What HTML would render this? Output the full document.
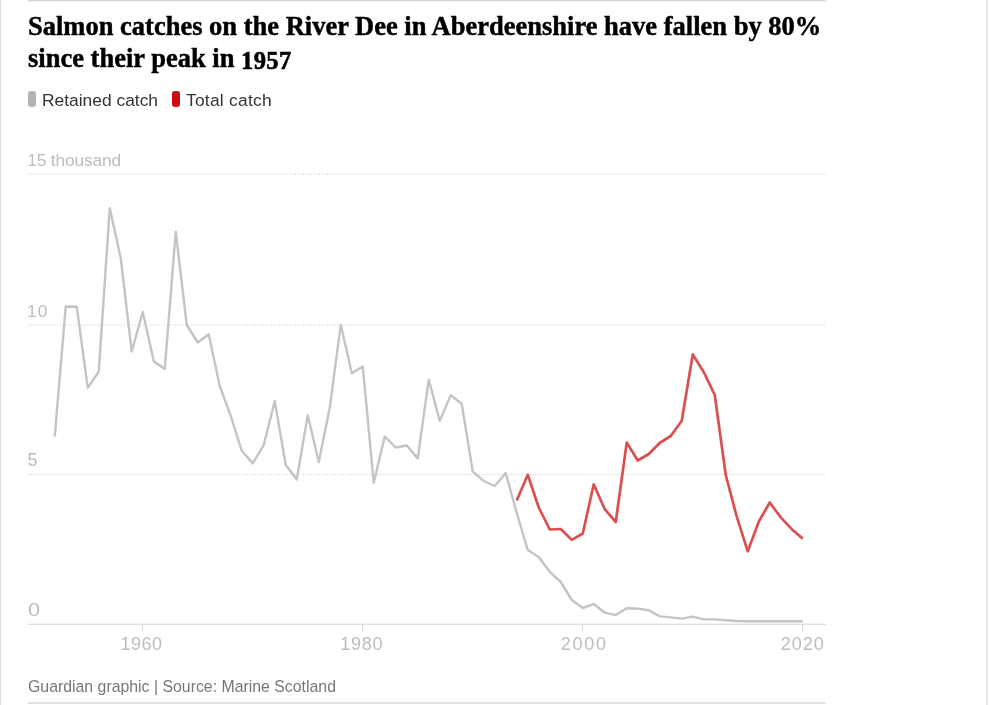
<!DOCTYPE html>
<html><head><meta charset="utf-8"><style>
html,body{margin:0;padding:0;background:#fff;}
.title,.leg,.foot,svg{will-change:transform;}
body{width:989px;height:705px;position:relative;overflow:hidden;}
.ln{position:absolute;background:#dadada;}
.title{position:absolute;left:28px;top:0;margin:0;font-family:"Liberation Serif",serif;font-weight:bold;font-size:26.5px;color:#000;white-space:nowrap;line-height:31.8px;-webkit-text-stroke:0.45px #000;}
.leg{position:absolute;top:0;font-family:"Liberation Sans",sans-serif;font-size:17.4px;color:#333;white-space:nowrap;}
.sw{position:absolute;width:8px;height:16px;border-radius:3px;}
.foot{position:absolute;left:28px;font-family:"Liberation Sans",sans-serif;font-size:15.85px;color:#767676;white-space:nowrap;}
svg{position:absolute;left:0;top:0;}
.ax{font-family:"Liberation Sans",sans-serif;font-size:17.4px;fill:#bdbdbd;}
</style></head><body>
<div class="ln" style="left:0;top:0;width:1px;height:705px;"></div>
<div class="ln" style="left:986px;top:0;width:2px;height:705px;background:#e5e5e5;"></div>
<div class="ln" style="left:28px;top:0;width:798px;height:1px;background:#d6d6d6"></div>
<div class="ln" style="left:28px;top:1px;width:798px;height:1px;background:#f1f1f1"></div>
<div class="ln" style="left:28px;top:702px;width:798px;height:2px;background:#e3e3e3"></div>
<div class="title" style="top:10.8px">Salmon catches on the River Dee in Aberdeenshire have fallen by 80%<br>since their peak in <span style="position:relative;top:2.6px;font-size:24.5px;letter-spacing:0.4px;-webkit-text-stroke:0.6px #000">1957</span></div>
<div class="sw" style="left:28px;top:91px;background:#b3b3b3"></div>
<div class="leg" style="left:42px;top:89.5px">Retained catch</div>
<div class="sw" style="left:172px;top:91px;background:#cc0a11"></div>
<div class="leg" style="left:186px;top:89.5px;letter-spacing:0.25px">Total catch</div>
<svg width="989" height="705" viewBox="0 0 989 705">
<line x1="28" y1="174.1" x2="826" y2="174.1" stroke="#c6c6c6" stroke-width="1" stroke-dasharray="1 1.67"/>
<line x1="28" y1="325.0" x2="826" y2="325.0" stroke="#c6c6c6" stroke-width="1" stroke-dasharray="1 1.67"/>
<line x1="28" y1="474.6" x2="826" y2="474.6" stroke="#c6c6c6" stroke-width="1" stroke-dasharray="1 1.67"/>
<line x1="28" y1="624.2" x2="826" y2="624.2" stroke="#d4d4d4" stroke-width="1.1"/>
<line x1="142.5" y1="624" x2="142.5" y2="631.5" stroke="#d6d6d6" stroke-width="1"/>
<line x1="362.5" y1="624" x2="362.5" y2="631.5" stroke="#d6d6d6" stroke-width="1"/>
<line x1="582.5" y1="624" x2="582.5" y2="631.5" stroke="#d6d6d6" stroke-width="1"/>
<line x1="802.5" y1="624" x2="802.5" y2="631.5" stroke="#d6d6d6" stroke-width="1"/>
<text x="27.2" y="166" class="ax" style="font-size:17.4px" textLength="94.0" lengthAdjust="spacing">15 thousand</text>
<text x="27.1" y="316.5" class="ax" style="font-size:17.4px" textLength="20.2" lengthAdjust="spacing">10</text>
<text x="27.6" y="466.3" class="ax" style="font-size:18px" textLength="10.0" lengthAdjust="spacingAndGlyphs">5</text>
<text x="27.9" y="616" class="ax" style="font-size:18.2px" textLength="12.1" lengthAdjust="spacingAndGlyphs">0</text>
<text x="120.4" y="650.3" class="ax" style="font-size:18px" textLength="41.5" lengthAdjust="spacing">1960</text>
<text x="340.3" y="650.3" class="ax" style="font-size:18px" textLength="42.2" lengthAdjust="spacing">1980</text>
<text x="560.8" y="650.3" class="ax" style="font-size:18px" textLength="45.3" lengthAdjust="spacing">2000</text>
<text x="780.8" y="650.3" class="ax" style="font-size:18px" textLength="42.9" lengthAdjust="spacing">2020</text>

<polyline points="54.75,436.5 65.75,306.5 76.75,306.8 87.75,387.7 98.75,371.7 109.75,208.1 120.75,258.2 131.75,351.5 142.75,312 153.75,361.3 164.75,369 175.75,231.7 186.75,325 197.75,342.5 208.75,334.3 219.75,386 230.75,416 241.75,450.7 252.75,463.4 263.75,445 274.75,401 285.75,465 296.75,479.4 307.75,415.3 318.75,462 329.75,407.7 340.75,324.8 351.75,373.1 362.75,366.6 373.75,482.6 384.75,436.5 395.75,447.5 406.75,445.5 417.75,458.4 428.75,379.6 439.75,420.9 450.75,395.1 461.75,404 472.75,471.5 483.75,481 494.75,486 505.75,473 516.75,513 527.75,550 538.75,557 549.75,571.8 560.75,582 571.75,600 582.75,608 593.75,604 604.75,612.7 615.75,615.1 626.75,608.2 637.75,608.6 648.75,610.3 659.75,616.4 670.75,617.4 681.75,618.6 692.75,616.6 703.75,619.4 714.75,619.4 725.75,620.2 736.75,621 747.75,621.3 758.75,621.3 769.75,621.3 780.75,621.3 791.75,621.3 802.75,621.3" fill="none" stroke="#c4c4c4" stroke-width="2.4" stroke-linejoin="round"/>
<polyline points="516.75,500.5 527.75,474.7 538.75,507.5 549.75,529.5 560.75,529 571.75,539.9 582.75,533.5 593.75,484.3 604.75,509.2 615.75,522 626.75,442.5 637.75,460.5 648.75,454 659.75,443 670.75,436 681.75,420.7 692.75,354.5 703.75,372 714.75,395 725.75,475 736.75,516.7 747.75,551.3 758.75,521.7 769.75,502.5 780.75,517.4 791.75,529.2 802.75,538.6" fill="none" stroke="#d95050" stroke-width="2.7" stroke-linejoin="round"/>
</svg>
<div class="foot" style="top:677.8px">Guardian graphic | Source: Marine Scotland</div>
</body></html>
